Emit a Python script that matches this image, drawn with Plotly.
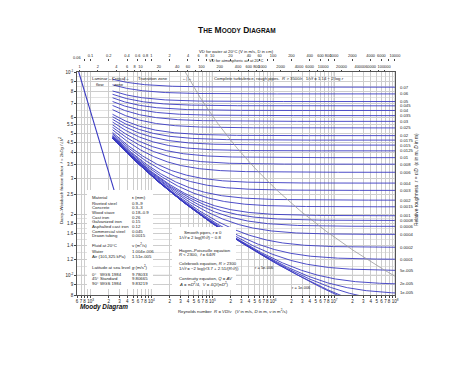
import numpy as np
import plotly.graph_objects as go

# ---------------- data ----------------
RE_RANGE = [600, 1e8]
F_RANGE = [0.008, 0.1]

rel_roughness = [0.07, 0.06, 0.05, 0.045, 0.04, 0.035, 0.03, 0.025, 0.02, 0.0175,
                 0.015, 0.0125, 0.01, 0.008, 0.006, 0.004, 0.003, 0.002, 0.0015,
                 0.001, 0.0008, 0.0006, 0.0004, 0.0002, 0.0001, 5e-5, 2e-5, 1e-5]
rel_roughness_labels = ["0.07", "0.06", "0.05", "0.045", "0.04", "0.035", "0.03", "0.025",
                        "0.02", "0.0175", "0.015", "0.0125", "0.01", "0.008", "0.006",
                        "0.004", "0.003", "0.002", "0.0015", "0.001", "0.0008", "0.0006",
                        "0.0004", "0.0002", "0.0001", "5e-005", "2e-005", "1e-005"]
inline_roughness = [5e-6, 1e-6, 0.0]
inline_labels = ["r = 5e-006", "r = 1e-006"]

RE_CRIT = 2300          # laminar / turbulent switch
RE_LAM_END = 4000
NU_WATER = 1.004e-6     # m^2/s
NU_AIR = 1.51e-5        # m^2/s

x_tick_vals = [600, 700, 800, 900]
x_tick_text = ["6", "7", "8", " "]
for dec in [3, 4, 5, 6, 7]:
    x_tick_vals += [10 ** dec] + [m * 10 ** dec for m in range(2, 10)]
    x_tick_text += ["10<sup>%d</sup>" % dec, "2", "3", "4", "5", "6", "7", "8", " "]
x_tick_vals += [1e8]
x_tick_text += ["10<sup>8</sup>"]

y_tick_vals = [0.008, 0.009, 0.01, 0.012, 0.014, 0.016, 0.018, 0.02, 0.025, 0.03, 0.035,
               0.04, 0.045, 0.05, 0.055, 0.06, 0.07, 0.08, 0.09, 0.1]
y_tick_text = ["8", "9", "10<sup>-2</sup>", "1.2", "1.4", "1.6", "1.8", "2", "2.5", "3", "3.5",
               "4", "4.5", "5", "5.5", "6", "7", "8", "9", "10<sup>-1</sup>"]
y_minor_grid = [0.011, 0.013, 0.015, 0.017, 0.019, 0.065, 0.075, 0.085, 0.095]

water_first_vd = 0.06    # first water label, just left of the Re axis start
water_vd = [0.08, 0.1, 0.2, 0.4, 0.6, 0.8, 1, 2, 4, 6, 8, 10, 20, 40, 60, 80, 100, 200,
            400, 600, 800, 1000, 2000, 4000, 6000, 8000, 10000]
water_lbl = [" ", "0.1", "0.2", "0.4", "0.6", "0.8", "1", "2", "4", "6", "8", "10", "20",
             "40", "60", " ", "100", "200", "400", "600", "800", "1000", "2000", "4000", "6000",
             " ", "10000"]
air_vd = [1, 2, 4, 6, 8, 10, 20, 40, 60, 80, 100, 200, 400, 600, 800, 1000, 2000, 4000,
          6000, 8000, 10000, 20000, 40000, 60000, 80000, 100000]
air_lbl = ["1", "2", "4", "6", "8", "10", "20", "40", "60", " ", "100", "200", "400", "600",
           "800", "1000", "2000", "4000", "6000", " ", "10000", "20000", "40000", "60000", " ",
           "100000"]

materials = ["Riveted steel", "Concrete", "Wood stave", "Cast iron", "Galvanized iron",
             "Asphalted cast iron", "Commercial steel", "Drawn tubing"]
material_eps = ["0.9\u20139", "0.3\u20133", "0.18\u20130.9", "0.26", "0.15", "0.12",
                "0.045", "0.0015"]
fluids = ["Water", "Air (101,325 kPa)"]
fluid_nu = ["1.004e-006", "1.51e-005"]
latitudes = ["0\u00b0", "45\u00b0", "90\u00b0"]
lat_models = ["WGS 1984", "Standard", "WGS 1984"]
lat_g = ["9.78033", "9.80665", "9.83219"]

# ---------------- layout helpers (page pixels) ----------------
OFF = 8                              # default body margin of the page
W, H = 474 - 2 * OFF, 366 - 2 * OFF - 4
L, R, T, B = 77, 395, 72, 295        # plot frame in page pixels
MT = 46                              # top of the paper area in page pixels
FONT = "Liberation Sans, Arial, sans-serif"
BLUE = "#3939c2"


def colebrook(re, r):
    x = np.full_like(re, 8.0)
    for _ in range(80):
        x = -2.0 * np.log10(r / 3.7 + 2.51 * x / re)
    return 1.0 / x ** 2


def px(xp):
    return (xp - L) / (R - L)


def py(yp):
    return (B - yp) / (B - MT)


def ann(text, x, y, size=4.3, xanchor="left", yanchor="middle", **kw):
    d = dict(text=text, x=px(x), y=py(y), xref="paper", yref="paper", showarrow=False,
             xanchor=xanchor, yanchor=yanchor, font=dict(size=size, family=FONT, color="#222"))
    d.update(kw)
    return d


fig = go.Figure()

# turbulent (Colebrook) curves
re_t = np.logspace(np.log10(RE_CRIT), np.log10(RE_RANGE[1]), 400)
for r in rel_roughness + inline_roughness:
    f = colebrook(re_t, r)
    fig.add_trace(go.Scatter(x=re_t, y=f, mode="lines", line=dict(color=BLUE, width=0.9),
                             hoverinfo="skip", showlegend=False))
right_vals = [float(colebrook(np.array([RE_RANGE[1]]), r)[0]) for r in rel_roughness]

# laminar line
re_l = np.logspace(np.log10(RE_RANGE[0]), np.log10(RE_LAM_END), 50)
fig.add_trace(go.Scatter(x=re_l, y=64.0 / re_l, mode="lines", line=dict(color=BLUE, width=1.1),
                         hoverinfo="skip", showlegend=False))

# complete-turbulence boundary R = 3500/r
r_b = np.logspace(-1.0, np.log10(3500 / RE_RANGE[1]), 100)
fig.add_trace(go.Scatter(x=3500 / r_b, y=1.0 / (1.14 - 2 * np.log10(r_b)) ** 2, mode="lines",
                         line=dict(color="#9a9a9a", width=0.8), hoverinfo="skip", showlegend=False))

# dummy traces to activate the extra axes
fig.add_trace(go.Scatter(x=[10], y=[0.05], xaxis="x2", yaxis="y", mode="markers",
                         marker=dict(opacity=0), hoverinfo="skip", showlegend=False))
fig.add_trace(go.Scatter(x=[1], y=[0.05], xaxis="x3", yaxis="y", mode="markers",
                         marker=dict(opacity=0), hoverinfo="skip", showlegend=False))

k_w = 0.01 / NU_WATER
k_a = 0.01 / NU_AIR
lr = [np.log10(RE_RANGE[0]), np.log10(RE_RANGE[1])]
tickfont = dict(size=4.5, family=FONT, color="#222")
topfont = dict(size=3.9, family=FONT, color="#222")
dom_top = (B - T) / (B - MT)

fig.update_layout(
    width=W, height=H,
    margin=dict(l=L - OFF, r=W - (R - OFF), t=MT - OFF, b=H - (B - OFF), autoexpand=False),
    paper_bgcolor="white", plot_bgcolor="white", showlegend=False,
    xaxis=dict(type="log", range=lr, tickvals=x_tick_vals, ticktext=x_tick_text,
               tickfont=tickfont, ticks="outside", ticklen=2, tickcolor="#444",
               showgrid=True, gridcolor="#cdcdcd", gridwidth=0.5, showline=True,
               linecolor="#555", linewidth=0.8, mirror=True, zeroline=False, tickangle=0),
    yaxis=dict(type="log", range=[np.log10(F_RANGE[0]), np.log10(F_RANGE[1])],
               domain=[0, dom_top], tickvals=y_tick_vals, ticktext=y_tick_text,
               tickfont=tickfont, ticks="outside", ticklen=2, tickcolor="#444",
               showgrid=True, gridcolor="#cdcdcd", gridwidth=0.5, showline=True,
               linecolor="#555", linewidth=0.8, mirror=True, zeroline=False,
               minor=dict(tickvals=y_minor_grid, showgrid=True, gridcolor="#e2e2e2",
                          gridwidth=0.5, ticks="")),
    xaxis2=dict(type="log", range=[lr[0] - np.log10(k_a), lr[1] - np.log10(k_a)],
                overlaying="x", side="top", anchor="y", tickvals=air_vd, ticktext=air_lbl,
                tickfont=topfont, ticks="outside", ticklen=1.5, tickcolor="#444",
                showgrid=False, showline=False, zeroline=False, tickangle=0),
    xaxis3=dict(type="log", range=[lr[0] - np.log10(k_w), lr[1] - np.log10(k_w)],
                overlaying="x", side="top", anchor="free", position=py(61),
                tickvals=water_vd, ticktext=water_lbl, tickfont=topfont, ticks="outside",
                ticklen=2, tickcolor="#444", showgrid=False, showline=False, zeroline=False,
                tickangle=0),
)

# decade grid lines (darker)
for dec in range(3, 9):
    fig.add_shape(type="line", xref="x", yref="y domain", x0=10 ** dec, x1=10 ** dec, y0=0, y1=1,
                  line=dict(color="#8c8c8c", width=0.6), layer="below")
fig.add_shape(type="line", xref="paper", yref="y", x0=0, x1=1, y0=0.01, y1=0.01,
              line=dict(color="#8c8c8c", width=0.6), layer="below")

# white boxes
fig.add_shape(type="rect", xref="paper", yref="paper", x0=px(87), x1=px(153), y0=py(190),
              y1=py(289), fillcolor="white", line=dict(width=0), layer="above")
fig.add_shape(type="rect", xref="paper", yref="paper", x0=px(172), x1=px(236), y0=py(227),
              y1=py(290), fillcolor="white", line=dict(width=0), layer="above")

annots = []
# first water VD label (sits just left of the Reynolds-number range)
x_first = (np.log10(water_first_vd * k_w) - lr[0]) / (lr[1] - lr[0])
annots.append(dict(text="%g" % water_first_vd, x=float(x_first), y=py(57), xref="paper",
                   yref="paper", showarrow=False, xanchor="center", yanchor="middle",
                   font=topfont))
# relative-roughness labels on the right, at each curve's end value
for v, lab in zip(right_vals, rel_roughness_labels):
    annots.append(dict(text=lab, x=px(398), y=float(np.log10(v)), xref="paper", yref="y",
                       showarrow=False, xanchor="left", yanchor="middle",
                       font=dict(size=4.2, family=FONT, color="#222")))
# titles
annots.append(ann("<b>T<span style='font-size:6.5px'>HE</span> M<span style='font-size:6.5px'>OODY</span>"
                  " D<span style='font-size:6.5px'>IAGRAM</span></b>", 237, 30, size=8.5,
                  xanchor="center", font=dict(size=8.5, family=FONT, color="#111")))
annots.append(ann("VD for water at 20\u00b0C (V in m/s, D in cm)", 236, 51.5, size=4.2, xanchor="center"))
annots.append(ann("VD for atmospheric air at 20\u00b0C", 236, 61, size=4.0, xanchor="center"))
annots.append(ann("<b><i>Moody Diagram</i></b>", 78, 307, xanchor="left",
                  font=dict(size=6.4, family=FONT, color="#111")))
annots.append(ann("Reynolds number  <i>R</i> = <i>VD</i>/<i>\u03bd</i>   (<i>V</i> in m/s, <i>D</i> in m, "
                  "<i>\u03bd</i> in m<sup>2</sup>/s)", 176, 311, size=4.3))
annots.append(ann("Darcy\u2013Weisbach friction factor  <i>f</i> = 2<i>hDg</i> / <i>LV</i><sup>2</sup>",
                  61, 180, size=4.3, xanchor="center", textangle=-90))
annots.append(ann("Relative roughness  <i>r</i> = \u03b5/<i>D</i>  (\u03b5 in m, <i>D</i> in m)",
                  416, 180, size=4.8, xanchor="center", textangle=-90))

# zone labels
annots.append(ann("Laminar<br>flow", 100, 81, size=4.3, xanchor="center"))
annots.append(ann("\u2190|", 110, 78, size=4.3, xanchor="center"))
annots.append(ann("Critical<br>zone", 118, 81, size=4.3, xanchor="center"))
annots.append(ann("|\u2192", 126, 78, size=4.3, xanchor="center"))
annots.append(ann("Transition zone", 153, 78, size=4.3, xanchor="center"))
annots.append(ann("\u2190|\u2192", 187, 78, size=4.3, xanchor="center"))
annots.append(ann("Complete turbulence, rough pipes.  <i>R</i> > 3500/<i>r</i>.  1/\u221a<i>f</i> = 1.14 \u2212 2 log <i>r</i>",
                  279, 78, size=4.3, xanchor="center"))

# inline roughness labels
annots.append(ann(inline_labels[0], 253, 267, size=4.0))
annots.append(ann(inline_labels[1], 290, 287, size=4.0))

# material table
c1, c2 = 90, 130
annots.append(ann("Material", c1, 197))
annots.append(ann("\u03b5 (mm)", c2, 197))
for i, (m, e) in enumerate(zip(materials, material_eps)):
    yy = 203 + i * 4.7
    annots.append(ann(m, c1, yy))
    annots.append(ann(e, c2, yy))
annots.append(ann("Fluid at 20\u00b0C", c1, 245))
annots.append(ann("\u03bd (m<sup>2</sup>/s)", c2, 245))
for i, (fl, nu) in enumerate(zip(fluids, fluid_nu)):
    yy = 251.5 + i * 4.6
    annots.append(ann(fl, c1, yy))
    annots.append(ann(nu, c2, yy))
annots.append(ann("Latitude at sea level", c1, 267))
annots.append(ann("<i>g</i> (m/s<sup>2</sup>)", c2, 267))
for i, (la, mo, g) in enumerate(zip(latitudes, lat_models, lat_g)):
    yy = 274 + i * 4.5
    annots.append(ann(la, c1, yy))
    annots.append(ann(mo, 98, yy))
    annots.append(ann(g, c2, yy))

# equations box
eq_lines = [
    ("Smooth pipes, <i>r</i> = 0", 182, 232),
    ("1/\u221a<i>f</i> = 2 log(<i>R</i>\u221a<i>f</i>) \u2212 0.8", 177, 237.5),
    ("Hagen\u2013Poiseuille equation", 177, 250),
    ("<i>R</i> < 2300,  <i>f</i> = 64/<i>R</i>", 177, 254.5),
    ("Colebrook equation, <i>R</i> > 2300", 177, 263),
    ("1/\u221a<i>f</i> = \u22122 log(<i>r</i>/3.7 + 2.51/(<i>R</i>\u221a<i>f</i>))", 177, 268),
    ("Continuity equation, <i>Q</i> = <i>AV</i>", 177, 278.5),
    ("<i>A</i> = \u03c0<i>D</i><sup>2</sup>/4,  <i>V</i> = 4<i>Q</i>/(\u03c0<i>D</i><sup>2</sup>)", 177, 284),
]
for t, x, y in eq_lines:
    annots.append(ann(t, x, y))

fig.update_layout(annotations=annots)
fig.write_html("out.html")
